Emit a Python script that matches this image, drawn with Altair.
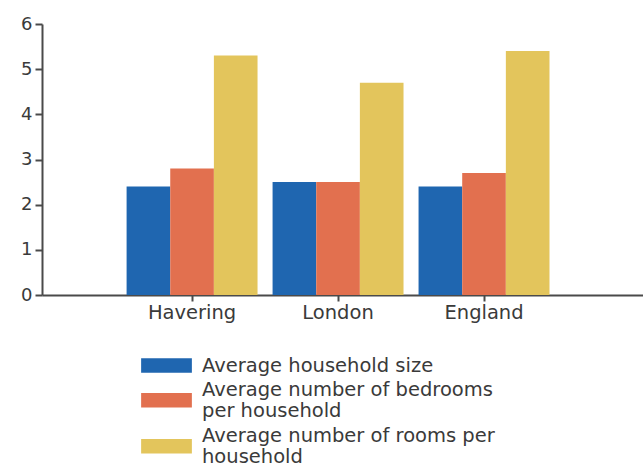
import altair as alt
import pandas as pd

areas = ["Havering", "London", "England"]
measures = [
    "Average household size",
    "Average number of bedrooms|per household",
    "Average number of rooms per|household",
]
household_size = [2.4, 2.5, 2.4]
bedrooms = [2.8, 2.5, 2.7]
rooms = [5.3, 4.7, 5.4]
colors = ["#1f66b0", "#e2704f", "#e3c55c"]

rows = []
for i, a in enumerate(areas):
    for m, vals in zip(measures, [household_size, bedrooms, rooms]):
        rows.append({"area": a, "measure": m, "value": vals[i]})
df = pd.DataFrame(rows)

FONT = "DejaVu Sans"
TXT = "#3a3a3a"
AX = "#4a4a4a"

SYM_ONE = "M-1.75,-0.5H1.75V0.5H-1.75Z"
SYM_TWO = "M-1.75,0.24H1.75V1.24H-1.75Z"

chart = (
    alt.Chart(df)
    .mark_bar()
    .encode(
        x=alt.X(
            "area:N",
            sort=areas,
            scale=alt.Scale(paddingInner=0.103, paddingOuter=0.61, align=0.475),
            axis=alt.Axis(
                title=None, labelAngle=0, labelFontSize=19.5, labelColor=TXT,
                labelFont=FONT, domainColor=AX, domainWidth=2, ticks=True,
                tickColor=AX, tickSize=6, tickWidth=2, labelPadding=2,
            ),
        ),
        xOffset=alt.XOffset("measure:N", sort=measures,
                            scale=alt.Scale(paddingInner=0, paddingOuter=0)),
        y=alt.Y(
            "value:Q",
            scale=alt.Scale(domain=[0, 6]),
            axis=alt.Axis(
                title=None, values=[0, 1, 2, 3, 4, 5, 6], grid=False,
                labelFontSize=18, labelColor=TXT, labelFont=FONT,
                domainColor=AX, domainWidth=2, ticks=True, tickColor=AX,
                tickSize=7, tickWidth=2, labelPadding=3,
            ),
        ),
        color=alt.Color(
            "measure:N",
            sort=measures,
            scale=alt.Scale(domain=measures, range=colors),
            legend=alt.Legend(
                title=None, orient="none", legendX=110, legendY=327,
                direction="vertical",
                symbolType=alt.ExprRef(
                    expr=f"datum.index == 0 ? '{SYM_ONE}' : '{SYM_TWO}'"
                ),
                symbolSize=841,
                symbolStrokeWidth=0, symbolOpacity=1,
                labelExpr="split(datum.label, '|')",
                labelFontSize=19.5, labelColor=TXT, labelFont=FONT,
                labelLimit=400, labelOffset=21, rowPadding=0, padding=0,
            ),
        ),
    )
    .properties(
        width=601, height=271,
        padding={"left": 42, "top": 24, "right": 0, "bottom": 168},
        autosize=alt.AutoSizeParams(type="none"),
    )
    .configure(style={"guide-label": {"lineHeight": 21.5}}, view={"stroke": None})
)

chart.save("out.html", embed_options={"renderer": "svg", "actions": False})
